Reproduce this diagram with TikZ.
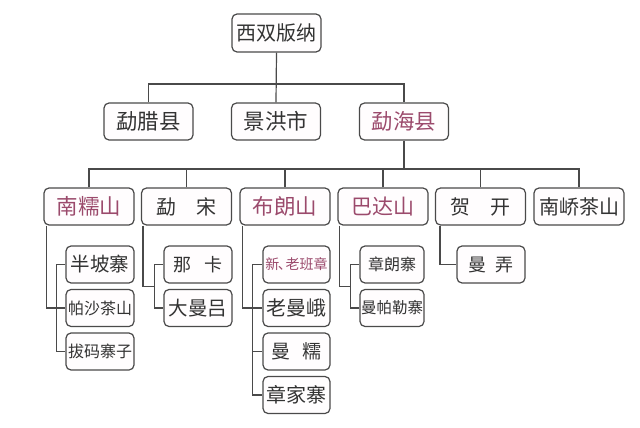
\documentclass[tikz,border=0pt]{standalone}
\usepackage{fontspec}
\newfontfamily\cjk{Noto Sans CJK SC}
\usetikzlibrary{calc}
\definecolor{txt}{HTML}{333333}
\definecolor{pinktxt}{HTML}{9B4A6C}
\definecolor{edge}{HTML}{4A4A4A}
\definecolor{boxfill}{HTML}{FFFDFE}
\tikzset{
  box/.style={draw=edge, line width=1.2pt, rounded corners=5pt, fill=boxfill,
    inner sep=0pt, text=txt, font=\cjk, anchor=center},
  lv1/.style={box, minimum width=89pt, minimum height=38pt},
  lv2/.style={box, minimum width=89pt, minimum height=37pt},
  lv3/.style={box, minimum width=90pt, minimum height=37pt},
  kid/.style={box, minimum width=68pt, minimum height=37pt},
  hl/.style={text=pinktxt},
  conn/.style={draw=edge, line width=1.2pt},
  fs/.style={font=\cjk\fontsize{#1}{#1}\selectfont}
}
\begin{document}
\begin{tikzpicture}[x=1pt,y=-1pt]
\useasboundingbox (0,0) rectangle (640,428);
\fill[white] (0,0) rectangle (640,428);

% nodes
\node[lv1, fs=20] (root) at (276.5,33) {西双版纳};
\node[lv2, fs=21.5] (ml) at (148.5,121.5) {勐腊县};
\node[lv2, fs=21.5] (jh) at (276,121.5) {景洪市};
\node[lv2, fs=21.5, hl] (mh) at (404,121.5) {勐海县};

\node[lv3, fs=21.5, hl] (nn) at (89,206.5) {南糯山};
\node[lv3, fs=20] (ms) at (186.5,206.5) {勐\hspace{20pt}宋};
\node[lv3, fs=21.5, hl] (bl) at (285,206.5) {布朗山};
\node[lv3, fs=21, hl] (bd) at (383,206.5) {巴达山};
\node[lv3, fs=20] (hk) at (480.5,206.5) {贺\hspace{20pt}开};
\node[lv3, fs=20] (nq) at (579,206.5) {南峤茶山};

\node[kid, fs=19.5] (nk1) at (100,264.5) {半坡寨};
\node[kid, fs=16] (nk2) at (100,308) {帕沙茶山};
\node[kid, fs=16] (nk3) at (100,351.5) {拔码寨子};

\node[kid, fs=18] (mk1) at (198,264.5) {那\hspace{14pt}卡};
\node[kid, fs=19.5] (mk2) at (198,308) {大曼吕};

\node[kid, minimum width=67pt, fs=14, hl] (bk1) at (296.5,264.5) {新\kern-0.1em、\kern-0.45em老班章};
\node[kid, minimum width=67pt, fs=20] (bk2) at (296.5,308) {老曼峨};
\node[kid, minimum width=67pt, fs=19] (bk3) at (296.5,351.5) {曼\hspace{12pt}糯};
\node[kid, minimum width=67pt, fs=20] (bk4) at (296.5,395) {章家寨};

\node[kid, minimum width=64pt, fs=16] (dk1) at (392,264.5) {章朗寨};
\node[kid, minimum width=64pt, fs=15.5] (dk2) at (392,308) {曼帕勒寨};

\node[kid, fs=18] (hk1) at (491,264.5) {曼\hspace{10pt}弄};

% level 1 -> 2
\draw[conn] (root.south) -- (jh.north);
\draw[conn] (ml.north) |- (276.5,84) -| (mh.north);

% level 2 -> 3
\draw[conn] (mh.south) -- (404,169);
\draw[conn] (nn.north) |- (404,169) -| (nq.north);
\draw[conn] (ms.north) -- (ms.north |- 0,169);
\draw[conn] (bl.north) -- (bl.north |- 0,169);
\draw[conn] (bd.north) -- (bd.north |- 0,169);
\draw[conn] (hk.north) -- (hk.north |- 0,169);

% 南糯山
\draw[conn] ([xshift=3pt]nn.south west) |- (nk2.west);
\draw[conn] (nk1.west) -- ++(-9,0) |- (nk3.west);
% 勐宋
\draw[conn] ([xshift=2pt]ms.south west) |- ($(mk1.west)!0.5!(mk2.west)+(-9,0)$);
\draw[conn] (mk1.west) -- ++(-9,0) |- (mk2.west);
% 布朗山
\draw[conn] ([xshift=3pt]bl.south west) |- (bk2.west);
\draw[conn] (bk1.west) -- ++(-10,0) |- (bk4.west);
\draw[conn] (bk3.west) -- ++(-10,0);
% 巴达山
\draw[conn] ([xshift=2pt]bd.south west) |- ($(dk1.west)!0.5!(dk2.west)+(-9,0)$);
\draw[conn] (dk1.west) -- ++(-9,0) |- (dk2.west);
% 贺开
\draw[conn] ([xshift=5pt]hk.south west) |- (hk1.west);
\end{tikzpicture}
\end{document}
